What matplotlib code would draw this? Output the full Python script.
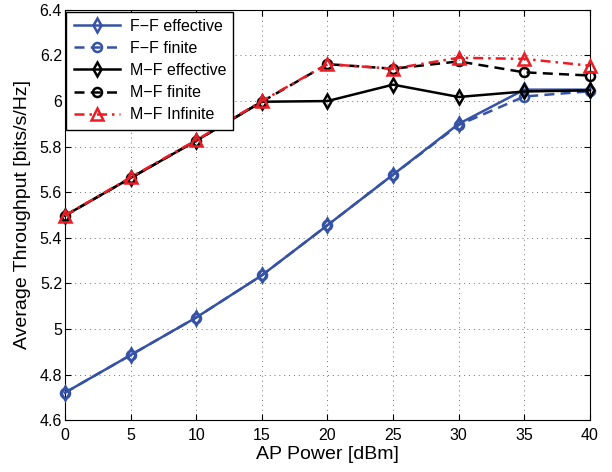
import matplotlib.pyplot as plt

plt.rcParams['font.family'] = ['Liberation Sans', 'DejaVu Sans']

power = [0, 5, 10, 15, 20, 25, 30, 35, 40]

ff_effective = [4.72, 4.885, 5.05, 5.235, 5.455, 5.677, 5.90, 6.05, 6.05]
ff_finite = [4.72, 4.885, 5.05, 5.235, 5.455, 5.677, 5.895, 6.02, 6.043]
mf_effective = [5.497, 5.662, 5.826, 5.997, 6.0, 6.072, 6.018, 6.042, 6.047]
mf_finite = [5.497, 5.662, 5.826, 5.997, 6.162, 6.142, 6.174, 6.126, 6.112]
mf_infinite = [5.497, 5.665, 5.828, 6.0, 6.162, 6.142, 6.19, 6.185, 6.155]

blue = '#3552a6'
red = '#ec1c24'

fig = plt.figure(figsize=(6.12, 4.72), dpi=100)
ax = fig.add_axes([0.106, 0.110, 0.858, 0.869])

common = dict(lw=1.8, mfc='none', mew=1.8, clip_on=False, zorder=3)
ax.plot(power, ff_effective, '-', color=blue, marker='d', ms=7.5,
        label='F\u2212F effective', **common)
ax.plot(power, ff_finite, color=blue, marker='o', ms=6.5, dashes=(4, 2.5),
        label='F\u2212F finite', **common)
ax.plot(power, mf_effective, '-', color='black', marker='d', ms=7.5,
        label='M\u2212F effective', **common)
ax.plot(power, mf_finite, color='black', marker='o', ms=6.5, dashes=(4, 2.5),
        label='M\u2212F finite', **common)
ax.plot(power, mf_infinite, color=red, marker='^', ms=8.5,
        dashes=(4, 2, 1, 2), label='M\u2212F Infinite', **common)

ax.set_xlim(0, 40)
ax.set_ylim(4.6, 6.4)
ax.set_xticks(range(0, 41, 5))
ax.set_yticks([4.6, 4.8, 5.0, 5.2, 5.4, 5.6, 5.8, 6.0, 6.2, 6.4])
ax.set_yticklabels(['4.6', '4.8', '5', '5.2', '5.4', '5.6', '5.8', '6', '6.2', '6.4'])
ax.tick_params(direction='in', labelsize=11.5, length=4, top=True, right=True)
ax.tick_params(axis='x', pad=6)
ax.tick_params(axis='y', pad=2)
ax.grid(True, color='#707070', linewidth=0.7, dashes=(1, 4))

ax.set_xlabel('AP Power [dBm]', fontsize=14, labelpad=2)
ax.set_ylabel('Average Throughput [bits/s/Hz]', fontsize=14, labelpad=6)

leg = ax.legend(loc='upper left', fontsize=11.5, frameon=True, fancybox=False,
                edgecolor='black', framealpha=1, borderaxespad=0.1,
                handlelength=2.9, labelspacing=0.45, borderpad=0.45,
                handletextpad=0.6)
leg.get_frame().set_linewidth(1.0)

fig.savefig('out.png', dpi=100)
